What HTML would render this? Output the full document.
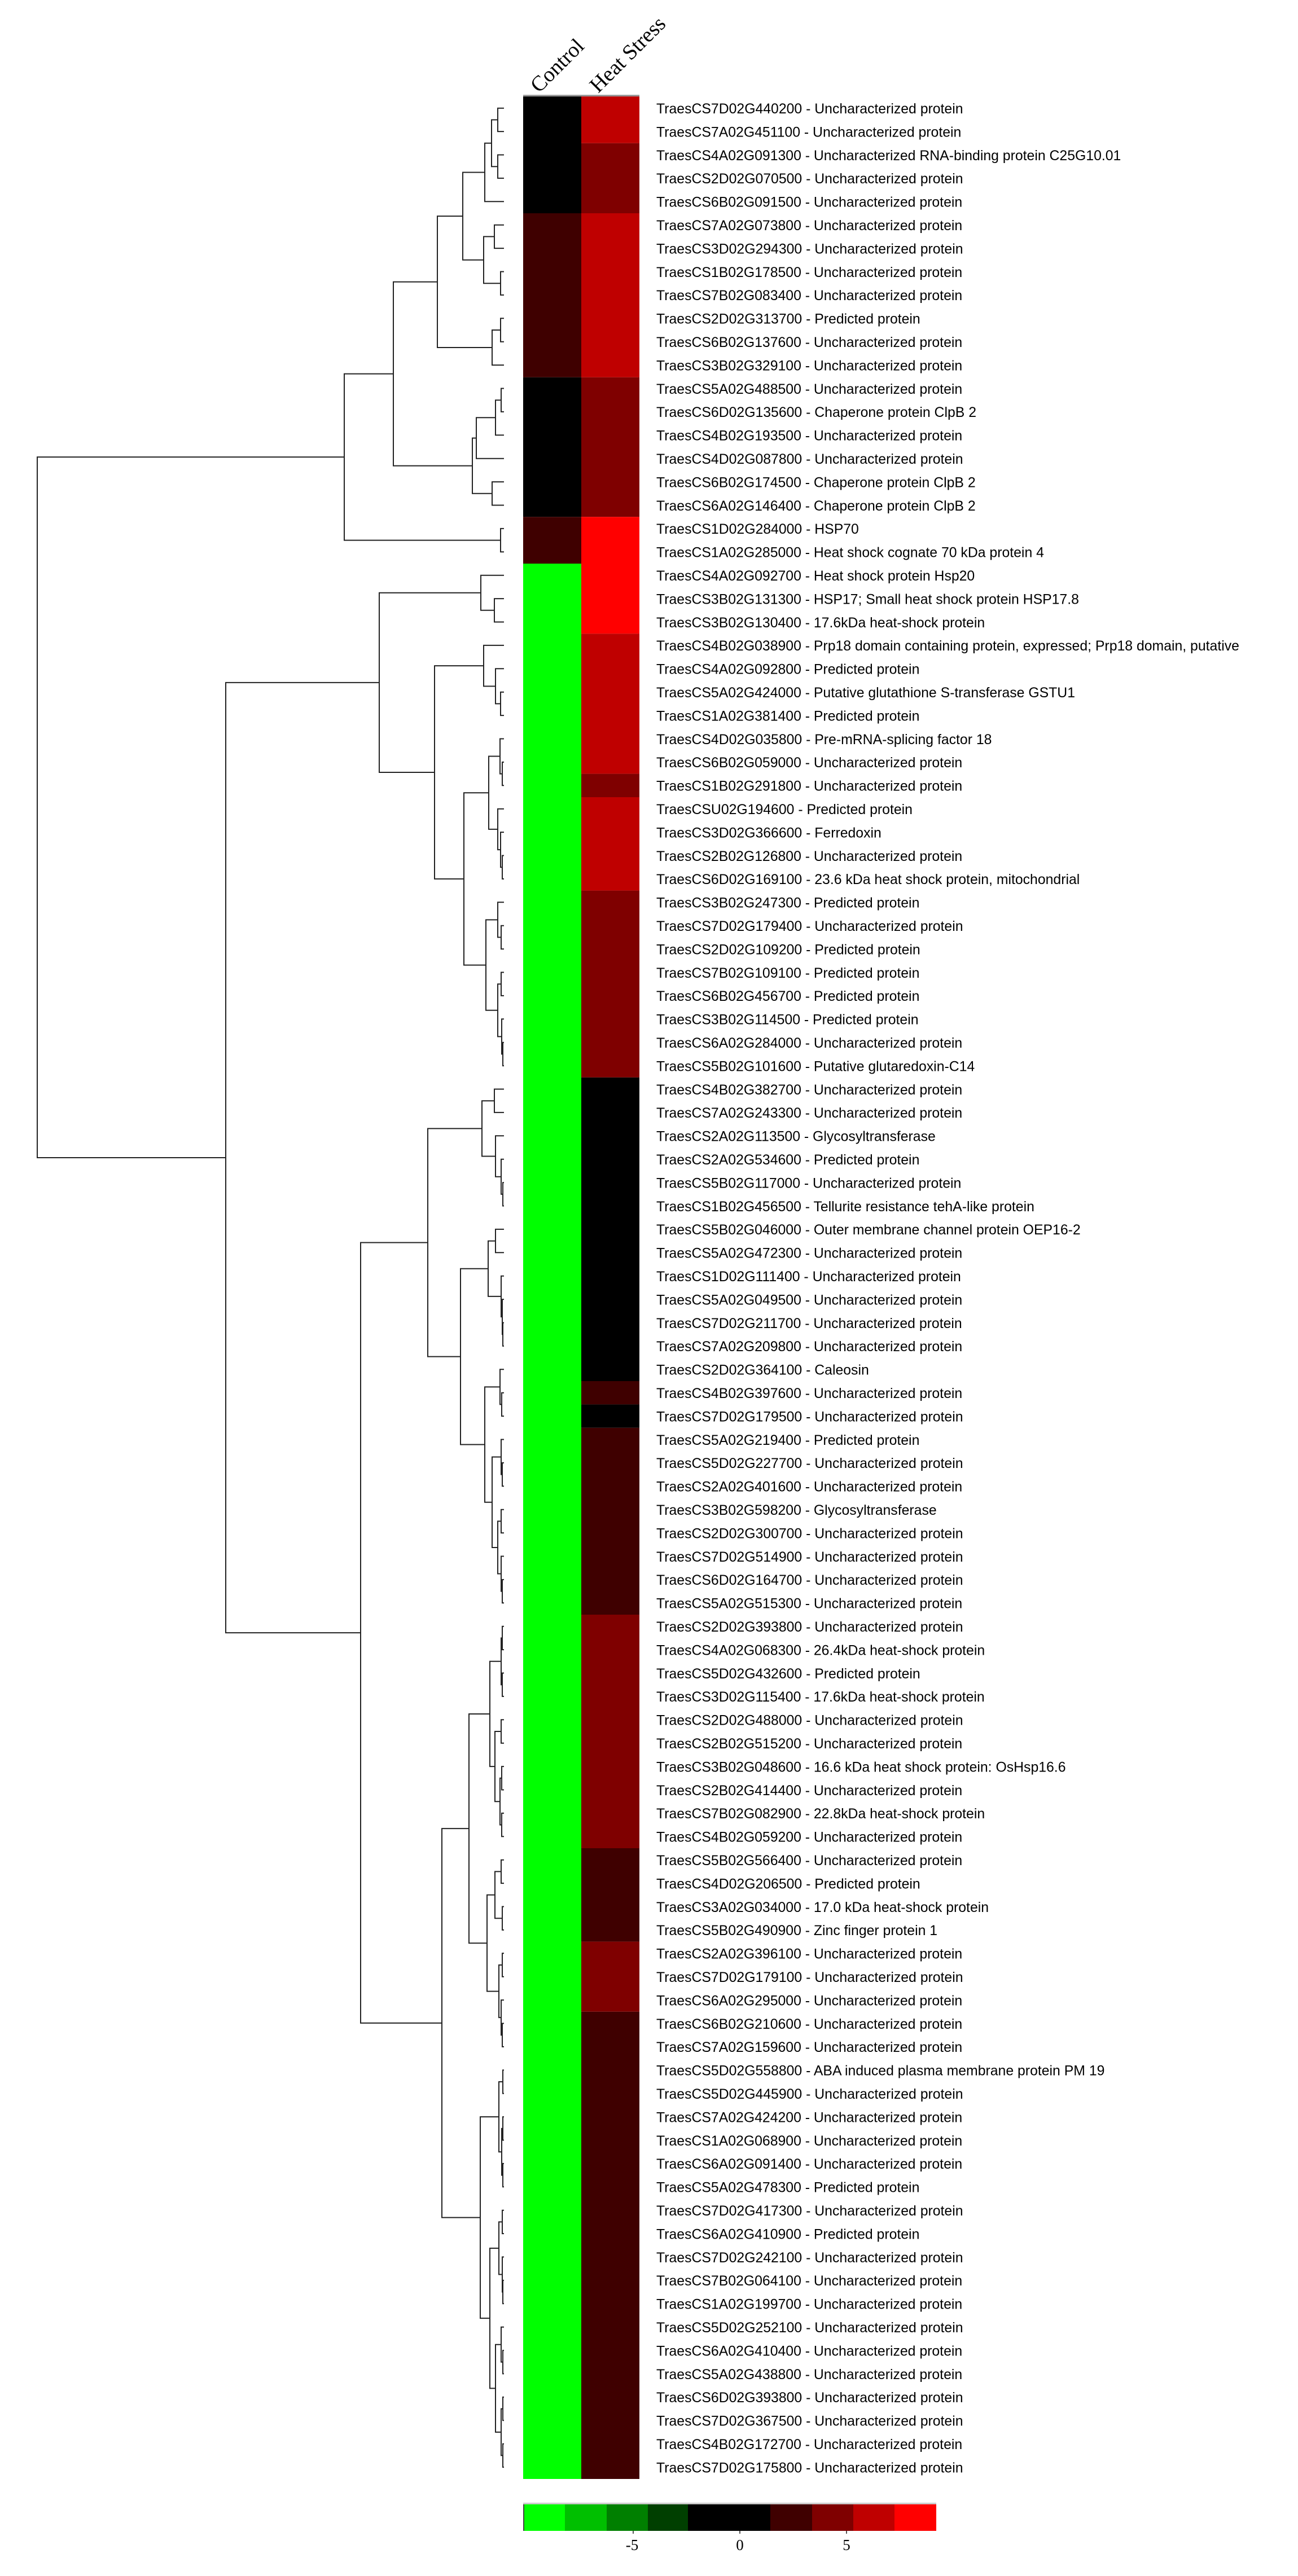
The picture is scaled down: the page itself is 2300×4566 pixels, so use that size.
<!DOCTYPE html>
<html><head><meta charset="utf-8"><style>
html,body{margin:0;padding:0;background:#fff}
svg{display:block}
.l{font-family:"Liberation Sans",Arial,sans-serif;font-size:24.8px;fill:#000}
.h{font-family:"Liberation Serif",serif;font-size:38px;fill:#000}
.t{font-family:"Liberation Serif",serif;font-size:27px;fill:#000}
</style></head><body>
<svg id="s" width="2300" height="4566" viewBox="0 0 2300 4566" xmlns="http://www.w3.org/2000/svg">
<rect width="2300" height="4566" fill="#fff"/>
<text class="h" transform="translate(955,166) rotate(-45)">Control</text>
<text class="h" transform="translate(1060,166) rotate(-45)">Heat Stress</text>
<rect x="927" y="168" width="206" height="3" fill="#999"/>
<rect x="927" y="171" width="103" height="207" fill="#000"/>
<rect x="927" y="378" width="103" height="290.8" fill="#3f0000"/>
<rect x="927" y="668.8" width="103" height="247.4" fill="#000"/>
<rect x="927" y="916.2" width="103" height="82.8" fill="#3f0000"/>
<rect x="927" y="999" width="103" height="3395" fill="#00ff00"/>
<rect x="1030" y="171" width="103" height="82.8" fill="#bf0000"/>
<rect x="1030" y="253.8" width="103" height="124.2" fill="#7f0000"/>
<rect x="1030" y="378" width="103" height="290.8" fill="#bf0000"/>
<rect x="1030" y="668.8" width="103" height="247.4" fill="#7f0000"/>
<rect x="1030" y="916.2" width="103" height="207" fill="#ff0000"/>
<rect x="1030" y="1123.2" width="103" height="248.4" fill="#bf0000"/>
<rect x="1030" y="1371.6" width="103" height="41.4" fill="#7f0000"/>
<rect x="1030" y="1413" width="103" height="165.6" fill="#bf0000"/>
<rect x="1030" y="1578.6" width="103" height="331.2" fill="#7f0000"/>
<rect x="1030" y="1909.8" width="103" height="538.2" fill="#000"/>
<rect x="1030" y="2448" width="103" height="41.4" fill="#3f0000"/>
<rect x="1030" y="2489.4" width="103" height="41.4" fill="#000"/>
<rect x="1030" y="2530.8" width="103" height="331.2" fill="#3f0000"/>
<rect x="1030" y="2862" width="103" height="414" fill="#7f0000"/>
<rect x="1030" y="3276" width="103" height="165.6" fill="#3f0000"/>
<rect x="1030" y="3441.6" width="103" height="124.2" fill="#7f0000"/>
<rect x="1030" y="3565.8" width="103" height="828.2" fill="#3f0000"/>
<rect x="927" y="4436" width="732" height="3" fill="#ccc"/>
<rect x="927" y="4439" width="74" height="47" fill="#00ff00"/>
<rect x="1001" y="4439" width="74" height="47" fill="#00bf00"/>
<rect x="1075" y="4439" width="73" height="47" fill="#007f00"/>
<rect x="1148" y="4439" width="71" height="47" fill="#003f00"/>
<rect x="1219" y="4439" width="146" height="47" fill="#000"/>
<rect x="1365" y="4439" width="74" height="47" fill="#3f0000"/>
<rect x="1439" y="4439" width="73" height="47" fill="#7f0000"/>
<rect x="1512" y="4439" width="73" height="47" fill="#bf0000"/>
<rect x="1585" y="4439" width="74" height="47" fill="#ff0000"/>
<rect x="927" y="4439" width="2" height="47" fill="#444"/>
<rect x="1121" y="4486" width="2" height="5" fill="#555"/>
<rect x="1310" y="4486" width="2" height="5" fill="#555"/>
<rect x="1499" y="4486" width="2" height="5" fill="#555"/>
<text class="t" x="1120" y="4520" text-anchor="middle">-5</text>
<text class="t" x="1311" y="4520" text-anchor="middle">0</text>
<text class="t" x="1500" y="4520" text-anchor="middle">5</text>
<g id="labels" class="l">
<text x="1163" y="201">TraesCS7D02G440200 - Uncharacterized protein</text>
<text x="1163" y="242.4">TraesCS7A02G451100 - Uncharacterized protein</text>
<text x="1163" y="283.8">TraesCS4A02G091300 - Uncharacterized RNA-binding protein C25G10.01</text>
<text x="1163" y="325.2">TraesCS2D02G070500 - Uncharacterized protein</text>
<text x="1163" y="366.6">TraesCS6B02G091500 - Uncharacterized protein</text>
<text x="1163" y="408">TraesCS7A02G073800 - Uncharacterized protein</text>
<text x="1163" y="449.4">TraesCS3D02G294300 - Uncharacterized protein</text>
<text x="1163" y="490.8">TraesCS1B02G178500 - Uncharacterized protein</text>
<text x="1163" y="532.2">TraesCS7B02G083400 - Uncharacterized protein</text>
<text x="1163" y="573.6">TraesCS2D02G313700 - Predicted protein</text>
<text x="1163" y="615">TraesCS6B02G137600 - Uncharacterized protein</text>
<text x="1163" y="656.4">TraesCS3B02G329100 - Uncharacterized protein</text>
<text x="1163" y="697.8">TraesCS5A02G488500 - Uncharacterized protein</text>
<text x="1163" y="739.2">TraesCS6D02G135600 - Chaperone protein ClpB 2</text>
<text x="1163" y="780.6">TraesCS4B02G193500 - Uncharacterized protein</text>
<text x="1163" y="822">TraesCS4D02G087800 - Uncharacterized protein</text>
<text x="1163" y="863.4">TraesCS6B02G174500 - Chaperone protein ClpB 2</text>
<text x="1163" y="904.8">TraesCS6A02G146400 - Chaperone protein ClpB 2</text>
<text x="1163" y="946.2">TraesCS1D02G284000 - HSP70</text>
<text x="1163" y="987.6">TraesCS1A02G285000 - Heat shock cognate 70 kDa protein 4</text>
<text x="1163" y="1029">TraesCS4A02G092700 - Heat shock protein Hsp20</text>
<text x="1163" y="1070.4">TraesCS3B02G131300 - HSP17; Small heat shock protein HSP17.8</text>
<text x="1163" y="1111.8">TraesCS3B02G130400 - 17.6kDa heat-shock protein</text>
<text x="1163" y="1153.2">TraesCS4B02G038900 - Prp18 domain containing protein, expressed; Prp18 domain, putative</text>
<text x="1163" y="1194.6">TraesCS4A02G092800 - Predicted protein</text>
<text x="1163" y="1236">TraesCS5A02G424000 - Putative glutathione S-transferase GSTU1</text>
<text x="1163" y="1277.4">TraesCS1A02G381400 - Predicted protein</text>
<text x="1163" y="1318.8">TraesCS4D02G035800 - Pre-mRNA-splicing factor 18</text>
<text x="1163" y="1360.2">TraesCS6B02G059000 - Uncharacterized protein</text>
<text x="1163" y="1401.6">TraesCS1B02G291800 - Uncharacterized protein</text>
<text x="1163" y="1443">TraesCSU02G194600 - Predicted protein</text>
<text x="1163" y="1484.4">TraesCS3D02G366600 - Ferredoxin</text>
<text x="1163" y="1525.8">TraesCS2B02G126800 - Uncharacterized protein</text>
<text x="1163" y="1567.2">TraesCS6D02G169100 - 23.6 kDa heat shock protein, mitochondrial</text>
<text x="1163" y="1608.6">TraesCS3B02G247300 - Predicted protein</text>
<text x="1163" y="1650">TraesCS7D02G179400 - Uncharacterized protein</text>
<text x="1163" y="1691.4">TraesCS2D02G109200 - Predicted protein</text>
<text x="1163" y="1732.8">TraesCS7B02G109100 - Predicted protein</text>
<text x="1163" y="1774.2">TraesCS6B02G456700 - Predicted protein</text>
<text x="1163" y="1815.6">TraesCS3B02G114500 - Predicted protein</text>
<text x="1163" y="1857">TraesCS6A02G284000 - Uncharacterized protein</text>
<text x="1163" y="1898.4">TraesCS5B02G101600 - Putative glutaredoxin-C14</text>
<text x="1163" y="1939.8">TraesCS4B02G382700 - Uncharacterized protein</text>
<text x="1163" y="1981.2">TraesCS7A02G243300 - Uncharacterized protein</text>
<text x="1163" y="2022.6">TraesCS2A02G113500 - Glycosyltransferase</text>
<text x="1163" y="2064">TraesCS2A02G534600 - Predicted protein</text>
<text x="1163" y="2105.4">TraesCS5B02G117000 - Uncharacterized protein</text>
<text x="1163" y="2146.8">TraesCS1B02G456500 - Tellurite resistance tehA-like protein</text>
<text x="1163" y="2188.2">TraesCS5B02G046000 - Outer membrane channel protein OEP16-2</text>
<text x="1163" y="2229.6">TraesCS5A02G472300 - Uncharacterized protein</text>
<text x="1163" y="2271">TraesCS1D02G111400 - Uncharacterized protein</text>
<text x="1163" y="2312.4">TraesCS5A02G049500 - Uncharacterized protein</text>
<text x="1163" y="2353.8">TraesCS7D02G211700 - Uncharacterized protein</text>
<text x="1163" y="2395.2">TraesCS7A02G209800 - Uncharacterized protein</text>
<text x="1163" y="2436.6">TraesCS2D02G364100 - Caleosin</text>
<text x="1163" y="2478">TraesCS4B02G397600 - Uncharacterized protein</text>
<text x="1163" y="2519.4">TraesCS7D02G179500 - Uncharacterized protein</text>
<text x="1163" y="2560.8">TraesCS5A02G219400 - Predicted protein</text>
<text x="1163" y="2602.2">TraesCS5D02G227700 - Uncharacterized protein</text>
<text x="1163" y="2643.6">TraesCS2A02G401600 - Uncharacterized protein</text>
<text x="1163" y="2685">TraesCS3B02G598200 - Glycosyltransferase</text>
<text x="1163" y="2726.4">TraesCS2D02G300700 - Uncharacterized protein</text>
<text x="1163" y="2767.8">TraesCS7D02G514900 - Uncharacterized protein</text>
<text x="1163" y="2809.2">TraesCS6D02G164700 - Uncharacterized protein</text>
<text x="1163" y="2850.6">TraesCS5A02G515300 - Uncharacterized protein</text>
<text x="1163" y="2892">TraesCS2D02G393800 - Uncharacterized protein</text>
<text x="1163" y="2933.4">TraesCS4A02G068300 - 26.4kDa heat-shock protein</text>
<text x="1163" y="2974.8">TraesCS5D02G432600 - Predicted protein</text>
<text x="1163" y="3016.2">TraesCS3D02G115400 - 17.6kDa heat-shock protein</text>
<text x="1163" y="3057.6">TraesCS2D02G488000 - Uncharacterized protein</text>
<text x="1163" y="3099">TraesCS2B02G515200 - Uncharacterized protein</text>
<text x="1163" y="3140.4">TraesCS3B02G048600 - 16.6 kDa heat shock protein: OsHsp16.6</text>
<text x="1163" y="3181.8">TraesCS2B02G414400 - Uncharacterized protein</text>
<text x="1163" y="3223.2">TraesCS7B02G082900 - 22.8kDa heat-shock protein</text>
<text x="1163" y="3264.6">TraesCS4B02G059200 - Uncharacterized protein</text>
<text x="1163" y="3306">TraesCS5B02G566400 - Uncharacterized protein</text>
<text x="1163" y="3347.4">TraesCS4D02G206500 - Predicted protein</text>
<text x="1163" y="3388.8">TraesCS3A02G034000 - 17.0 kDa heat-shock protein</text>
<text x="1163" y="3430.2">TraesCS5B02G490900 - Zinc finger protein 1</text>
<text x="1163" y="3471.6">TraesCS2A02G396100 - Uncharacterized protein</text>
<text x="1163" y="3513">TraesCS7D02G179100 - Uncharacterized protein</text>
<text x="1163" y="3554.4">TraesCS6A02G295000 - Uncharacterized protein</text>
<text x="1163" y="3595.8">TraesCS6B02G210600 - Uncharacterized protein</text>
<text x="1163" y="3637.2">TraesCS7A02G159600 - Uncharacterized protein</text>
<text x="1163" y="3678.6">TraesCS5D02G558800 - ABA induced plasma membrane protein PM 19</text>
<text x="1163" y="3720">TraesCS5D02G445900 - Uncharacterized protein</text>
<text x="1163" y="3761.4">TraesCS7A02G424200 - Uncharacterized protein</text>
<text x="1163" y="3802.8">TraesCS1A02G068900 - Uncharacterized protein</text>
<text x="1163" y="3844.2">TraesCS6A02G091400 - Uncharacterized protein</text>
<text x="1163" y="3885.6">TraesCS5A02G478300 - Predicted protein</text>
<text x="1163" y="3927">TraesCS7D02G417300 - Uncharacterized protein</text>
<text x="1163" y="3968.4">TraesCS6A02G410900 - Predicted protein</text>
<text x="1163" y="4009.8">TraesCS7D02G242100 - Uncharacterized protein</text>
<text x="1163" y="4051.2">TraesCS7B02G064100 - Uncharacterized protein</text>
<text x="1163" y="4092.6">TraesCS1A02G199700 - Uncharacterized protein</text>
<text x="1163" y="4134">TraesCS5D02G252100 - Uncharacterized protein</text>
<text x="1163" y="4175.4">TraesCS6A02G410400 - Uncharacterized protein</text>
<text x="1163" y="4216.8">TraesCS5A02G438800 - Uncharacterized protein</text>
<text x="1163" y="4258.2">TraesCS6D02G393800 - Uncharacterized protein</text>
<text x="1163" y="4299.6">TraesCS7D02G367500 - Uncharacterized protein</text>
<text x="1163" y="4341">TraesCS4B02G172700 - Uncharacterized protein</text>
<text x="1163" y="4382.4">TraesCS7D02G175800 - Uncharacterized protein</text>
</g>
<path id="dend" fill="none" stroke="#222" stroke-width="2" d=""/>
</svg>
<script>
(function(){
var LX=893;
function n(a,b,x){return {a:a,b:b,x:x};}
function ly(i){return 171+41.4*(i-0.5);}
var d=[];
function draw(t){
 if(typeof t==='number'){return {y:ly(t),x:LX};}
 var A=draw(t.a),B=draw(t.b);
 d.push('M'+A.x+' '+A.y+'H'+t.x+'V'+B.y+'H'+B.x);
 return {y:(A.y+B.y)/2,x:t.x};
}
var A=n(n(n(n(1,2,882),n(3,4,882),871),5,859),n(n(6,7,876),n(8,9,887),857),820);
var B=n(n(10,11,887),12,872);
var C=n(A,B,775);
var D=n(n(n(n(13,14,888),15,878),16,844),n(17,18,872),837);
var E=n(C,D,697);
var F=n(E,n(19,20,887),610);
var g21=n(21,n(22,23,876),852);
var g24=n(24,n(25,n(26,27,887),878),857);
var g28=n(n(28,n(29,30,890),886),n(31,n(32,n(33,34,890),887),882),866);
var g35=n(n(35,n(36,37,888),882),n(n(38,39,888),n(40,n(41,42,891),889),882),861);
var G1=n(g21,n(g24,n(g28,g35,822),770),672);
var h43=n(n(43,44,876),n(45,n(46,n(47,48,891),888),878),854);
var h49=n(n(n(49,50,878),n(51,n(52,n(53,54,891),890),888),865),
 n(n(55,n(56,57,889),886),n(n(58,n(59,60,890),888),n(n(61,62,888),n(63,n(64,65,890),888),882),872),859),816);
var i66=n(n(n(n(66,67,890),n(68,69,890),888),n(n(70,71,888),n(n(72,73,889),n(74,75,889),886),877),868),
 n(n(n(76,77,888),n(78,79,890),877),n(n(80,81,890),n(82,n(83,84,890),888),884),863),831);
var i85=n(n(n(85,86,891),n(n(87,88,891),n(89,90,891),889),884),
 n(n(n(91,92,890),n(93,n(94,95,891),890),884),n(n(96,n(97,98,891),888),n(n(99,100,891),n(101,102,891),888),878),868),851);
var G3=n(i66,i85,783);
var GB=n(n(h43,h49,758),G3,639);
var G=n(G1,GB,400);
var R=n(F,G,66);
draw(R);
document.getElementById('dend').setAttribute('d',d.join(''));
})();
</script>
</body></html>
